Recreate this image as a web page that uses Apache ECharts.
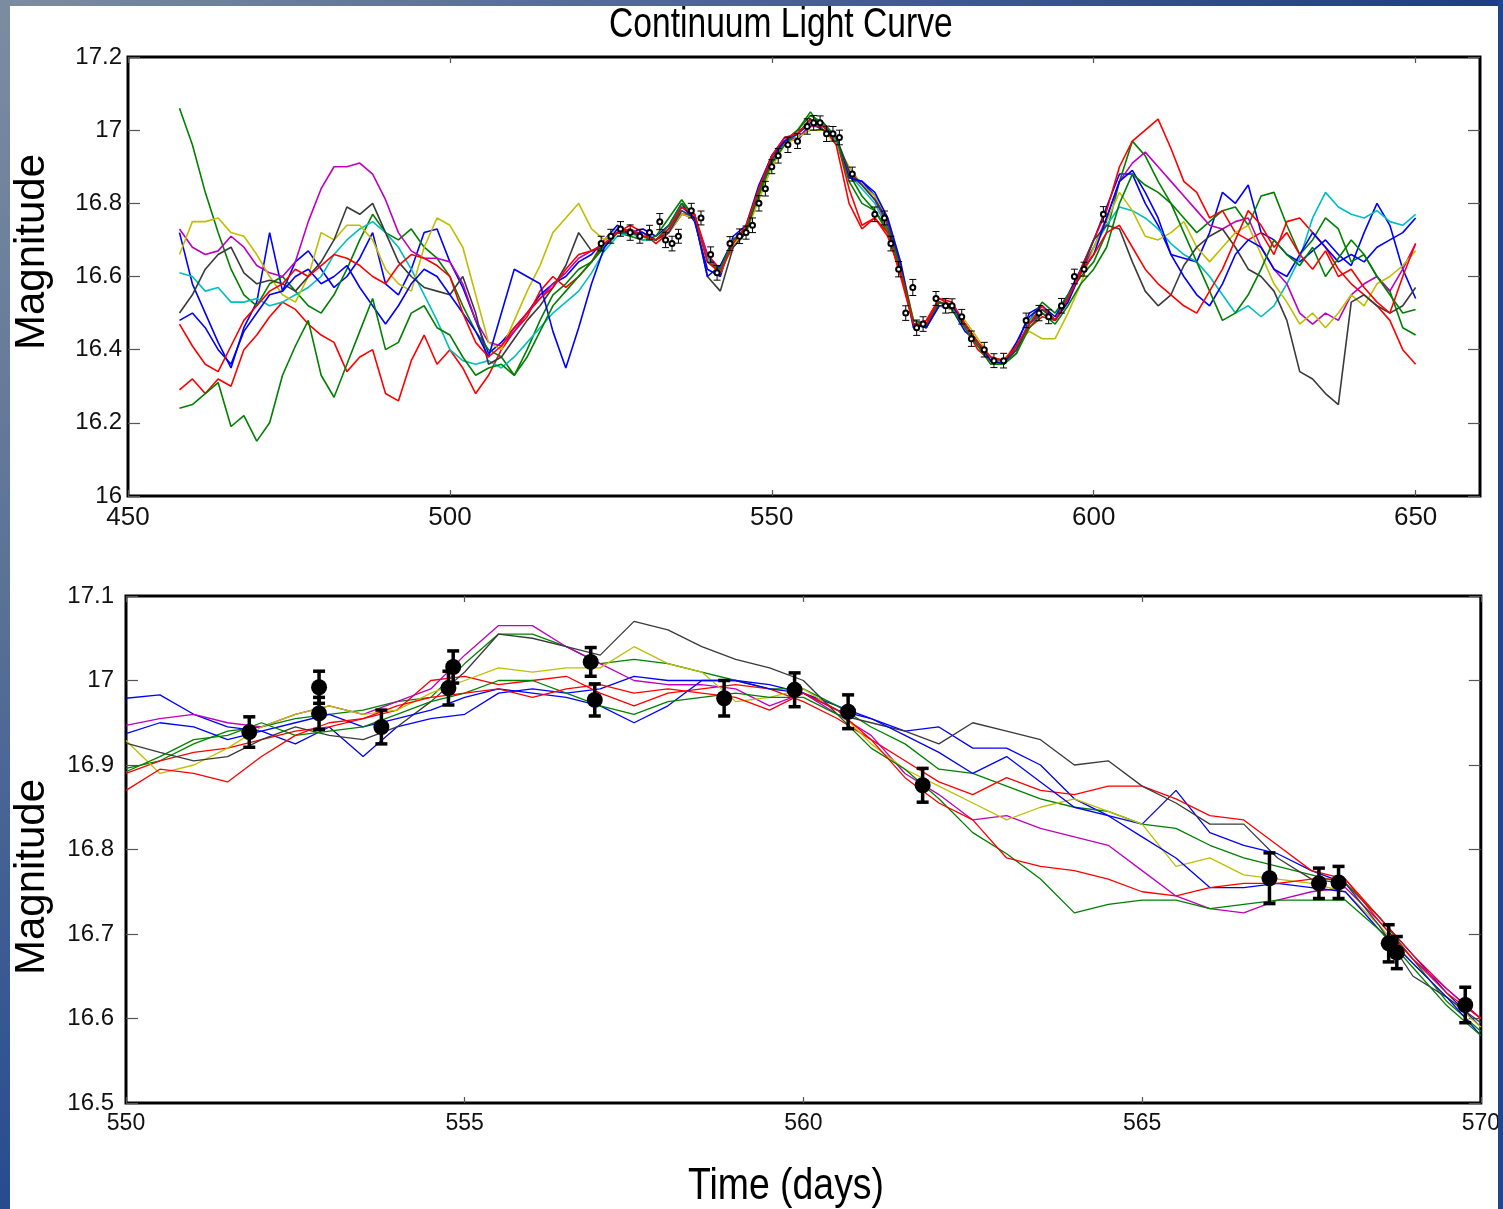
<!DOCTYPE html>
<html>
<head>
<meta charset="utf-8">
<script src="https://cdn.jsdelivr.net/npm/echarts@6/dist/echarts.min.js"></script>
<style>
  html, body { margin: 0; padding: 0; background: #fff; }
  #chart { width: 1503px; height: 1209px; }
</style>
</head>
<body>
<div id="chart"></div>
<script>
// ---------- Upper panel: full light curve with model realisations ----------
const topDays = [
  458,460,462,464,466,468,470,472,474,476,
  478,480,482,484,486,488,490,492,494,496,
  498,500,502,504,506,508,510,512,514,516,
  518,520,522,524,526,528,530,532,534,536,
  538,540,542,544,546,548,550,552,554,556,
  558,560,562,564,566,568,570,572,574,576,
  578,580,582,584,586,588,590,592,594,596,
  598,600,602,604,606,608,610,612,614,616,
  618,620,622,624,626,628,630,632,634,636,
  638,640,642,644,646,648,650
];
const topBlue1 = [
  16.72,16.58,16.50,16.42,16.35,16.46,16.53,16.72,16.56,16.64,
  16.67,16.62,16.57,16.60,16.65,16.72,16.58,16.55,16.62,16.72,
  16.73,16.64,16.57,16.48,16.39,16.42,16.46,16.50,16.55,16.58,
  16.60,16.64,16.66,16.70,16.74,16.72,16.73,16.71,16.74,16.80,
  16.75,16.62,16.60,16.71,16.74,16.85,16.93,16.98,16.97,17.02,
  17.00,16.97,16.87,16.86,16.82,16.75,16.63,16.46,16.48,16.53,
  16.51,16.45,16.42,16.37,16.36,16.41,16.50,16.52,16.49,16.55,
  16.62,16.70,16.79,16.88,16.88,16.80,16.74,16.66,16.65,16.64,
  16.72,16.83,16.80,16.85,16.72,16.70,16.66,16.64,16.67,16.70,
  16.66,16.63,16.72,16.80,16.74,16.62,16.54
];
const topGreen1 = [
  17.06,16.96,16.83,16.72,16.62,16.55,16.52,16.58,16.60,16.56,
  16.52,16.50,16.55,16.62,16.70,16.77,16.72,16.70,16.73,16.68,
  16.65,16.60,16.52,16.45,16.40,16.38,16.33,16.40,16.48,16.55,
  16.58,16.62,16.64,16.68,16.72,16.71,16.70,16.71,16.76,16.81,
  16.76,16.65,16.62,16.68,16.72,16.82,16.91,16.97,17.00,17.05,
  17.00,16.98,16.88,16.82,16.78,16.72,16.61,16.47,16.47,16.52,
  16.52,16.47,16.42,16.38,16.36,16.39,16.48,16.53,16.50,16.55,
  16.60,16.64,16.72,16.86,16.97,16.93,16.86,16.80,16.76,16.72,
  16.75,16.78,16.79,16.74,16.82,16.83,16.74,16.66,16.70,16.76,
  16.73,16.64,16.66,16.60,16.56,16.46,16.44
];
const topRed1 = [
  16.29,16.32,16.28,16.32,16.30,16.40,16.44,16.49,16.53,16.51,
  16.47,16.44,16.42,16.34,16.38,16.40,16.28,16.26,16.37,16.44,
  16.36,16.40,16.35,16.28,16.33,16.40,16.45,16.49,16.56,16.60,
  16.57,16.60,16.64,16.70,16.72,16.74,16.72,16.69,16.72,16.77,
  16.77,16.66,16.62,16.70,16.72,16.84,16.93,16.97,17.00,17.01,
  17.02,16.98,16.84,16.74,16.76,16.72,16.60,16.47,16.48,16.54,
  16.52,16.46,16.40,16.37,16.37,16.41,16.46,16.49,16.48,16.53,
  16.62,16.70,16.78,16.90,16.97,17.00,17.03,16.95,16.86,16.83,
  16.76,16.78,16.72,16.70,16.72,16.66,16.75,16.76,16.72,16.68,
  16.62,16.58,16.55,16.52,16.48,16.40,16.36
];
const topCyan = [
  16.61,16.60,16.56,16.57,16.53,16.53,16.54,16.52,16.53,16.55,
  16.57,16.60,16.66,16.70,16.73,16.75,16.72,16.68,16.62,16.55,
  16.48,16.40,16.37,16.36,16.37,16.35,16.38,16.42,16.46,16.50,
  16.53,16.56,16.61,16.67,16.71,16.72,16.70,16.70,16.73,16.78,
  16.76,16.65,16.61,16.69,16.73,16.83,16.92,16.96,16.99,17.02,
  17.00,16.97,16.88,16.84,16.80,16.73,16.62,16.48,16.47,16.52,
  16.51,16.47,16.41,16.38,16.36,16.40,16.48,16.51,16.48,16.54,
  16.61,16.68,16.74,16.79,16.78,16.76,16.73,16.69,16.66,16.64,
  16.60,16.55,16.50,16.52,16.49,16.52,16.58,16.65,16.76,16.83,
  16.79,16.77,16.76,16.78,16.75,16.74,16.77
];
const topMagenta = [
  16.73,16.68,16.66,16.67,16.71,16.68,16.63,16.61,16.60,16.64,
  16.75,16.84,16.90,16.90,16.91,16.88,16.81,16.72,16.67,16.65,
  16.65,16.64,16.58,16.48,16.42,16.41,16.45,16.50,16.54,16.58,
  16.61,16.65,16.67,16.69,16.72,16.72,16.71,16.70,16.72,16.77,
  16.76,16.66,16.61,16.70,16.73,16.83,16.92,16.97,16.98,17.01,
  17.01,16.98,16.88,16.85,16.81,16.74,16.63,16.48,16.46,16.53,
  16.52,16.46,16.41,16.38,16.37,16.40,16.47,16.50,16.48,16.54,
  16.61,16.68,16.76,16.86,16.91,16.94,16.90,16.86,16.82,16.78,
  16.74,16.73,16.75,16.76,16.68,16.62,16.58,16.50,16.47,16.50,
  16.48,16.55,16.58,16.60,16.56,16.62,16.69
];
const topYellow = [
  16.66,16.75,16.75,16.76,16.72,16.71,16.66,16.60,16.55,16.53,
  16.60,16.72,16.70,16.74,16.74,16.70,16.62,16.58,16.56,16.68,
  16.76,16.74,16.68,16.55,16.42,16.40,16.48,16.56,16.63,16.72,
  16.76,16.80,16.73,16.70,16.73,16.72,16.71,16.70,16.72,16.77,
  16.76,16.64,16.61,16.69,16.72,16.81,16.90,16.96,16.98,17.00,
  17.00,16.96,16.90,16.85,16.82,16.76,16.64,16.48,16.46,16.52,
  16.51,16.48,16.43,16.38,16.37,16.42,16.45,16.43,16.43,16.50,
  16.58,16.68,16.75,16.83,16.78,16.71,16.70,16.72,16.75,16.68,
  16.64,16.68,16.72,16.74,16.66,16.58,16.53,16.47,16.50,16.46,
  16.50,16.55,16.52,16.58,16.60,16.63,16.67
];
const topBlack = [
  16.50,16.55,16.62,16.66,16.68,16.61,16.58,16.59,16.58,16.56,
  16.60,16.64,16.70,16.79,16.77,16.80,16.72,16.64,16.60,16.57,
  16.56,16.55,16.60,16.50,16.36,16.38,16.43,16.48,16.52,16.57,
  16.63,16.72,16.67,16.68,16.72,16.72,16.71,16.70,16.72,16.78,
  16.76,16.60,16.56,16.68,16.72,16.83,16.92,16.97,16.99,17.02,
  17.00,16.98,16.89,16.85,16.81,16.75,16.63,16.47,16.46,16.53,
  16.52,16.47,16.42,16.37,16.36,16.40,16.47,16.51,16.48,16.54,
  16.61,16.70,16.74,16.73,16.64,16.56,16.52,16.55,16.63,16.68,
  16.71,16.73,16.68,16.62,16.60,16.56,16.48,16.34,16.32,16.28,
  16.25,16.53,16.55,16.52,16.50,16.52,16.57
];
const topBlue2 = [
  16.48,16.50,16.46,16.40,16.36,16.45,16.50,16.55,16.56,16.60,
  16.62,16.58,16.60,16.63,16.57,16.52,16.47,16.52,16.58,16.62,
  16.60,16.55,16.50,16.45,16.38,16.50,16.62,16.60,16.58,16.45,
  16.35,16.46,16.58,16.68,16.73,16.72,16.72,16.70,16.73,16.79,
  16.76,16.60,16.63,16.70,16.73,16.84,16.93,16.97,16.99,17.03,
  17.01,16.98,16.87,16.86,16.83,16.76,16.64,16.47,16.46,16.52,
  16.52,16.47,16.42,16.37,16.36,16.42,16.49,16.52,16.48,16.53,
  16.61,16.66,16.76,16.86,16.89,16.83,16.76,16.66,16.60,16.55,
  16.52,16.58,16.66,16.70,16.68,16.62,16.60,16.66,16.72,16.68,
  16.64,16.66,16.64,16.68,16.70,16.72,16.76
];
const topGreen2 = [
  16.24,16.25,16.28,16.31,16.19,16.22,16.15,16.20,16.33,16.41,
  16.48,16.33,16.27,16.36,16.45,16.54,16.40,16.42,16.50,16.52,
  16.46,16.44,16.38,16.33,16.35,16.36,16.33,16.38,16.45,16.52,
  16.56,16.60,16.64,16.69,16.72,16.73,16.71,16.70,16.74,16.80,
  16.77,16.64,16.62,16.70,16.73,16.83,16.91,16.96,17.00,17.04,
  17.02,16.98,16.86,16.80,16.78,16.73,16.62,16.48,16.47,16.53,
  16.51,16.46,16.41,16.36,16.36,16.39,16.46,16.50,16.47,16.52,
  16.58,16.62,16.68,16.80,16.88,16.85,16.83,16.80,16.72,16.64,
  16.56,16.48,16.50,16.55,16.62,16.70,16.66,16.63,16.68,16.60,
  16.65,16.70,16.66,16.60,16.55,16.50,16.51
];
const topRed2 = [
  16.47,16.41,16.36,16.34,16.41,16.48,16.52,16.56,16.58,16.62,
  16.60,16.63,16.66,16.65,16.63,16.60,16.58,16.63,16.66,16.65,
  16.63,16.60,16.50,16.42,16.38,16.41,16.46,16.50,16.54,16.57,
  16.62,16.66,16.67,16.69,16.72,16.73,16.71,16.70,16.73,16.79,
  16.77,16.64,16.61,16.69,16.74,16.84,16.93,16.98,16.99,17.03,
  17.01,16.96,16.80,16.73,16.76,16.71,16.61,16.47,16.47,16.54,
  16.53,16.47,16.42,16.38,16.37,16.41,16.47,16.52,16.48,16.54,
  16.61,16.66,16.72,16.74,16.68,16.62,16.58,16.55,16.52,16.50,
  16.56,16.62,16.70,16.78,16.74,16.68,16.72,16.66,16.62,16.67,
  16.60,16.62,16.57,16.53,16.50,16.60,16.69
];
// observed photometry (days, magnitude, 1-sigma error)
const topObsDay = [
  523.5,525,526.5,528,529.5,531,532.6,533.5,534.5,535.5,
  537.5,539,540.5,541.5,543.5,545,546,547,548,549,
  550,551,552.5,554,555.5,556.5,557.5,558.5,559.5,560.5,
  562.5,566,567.5,568.5,569.7,570.8,571.9,572.5,573.5,575.5,
  577,578,579.5,581,583,584.5,586,589.5,591.5,593,
  595,597,598.5,601.5
];
const topObsMag = [
  16.69,16.71,16.73,16.72,16.71,16.72,16.75,16.70,16.69,16.71,
  16.78,16.76,16.66,16.61,16.69,16.71,16.72,16.74,16.80,16.84,
  16.90,16.93,16.96,16.97,17.01,17.02,17.02,16.99,16.99,16.98,
  16.88,16.77,16.76,16.69,16.62,16.50,16.57,16.46,16.47,16.54,
  16.52,16.52,16.49,16.43,16.40,16.37,16.37,16.48,16.50,16.49,
  16.52,16.60,16.62,16.77
];
const topObsErr = [
  0.020,0.019,0.020,0.021,0.019,0.020,0.022,0.021,0.020,0.019,
  0.020,0.019,0.021,0.020,0.019,0.020,0.018,0.020,0.021,0.020,
  0.019,0.020,0.021,0.020,0.021,0.020,0.019,0.021,0.020,0.020,
  0.019,0.020,0.019,0.020,0.021,0.020,0.022,0.021,0.020,0.019,
  0.020,0.019,0.020,0.021,0.020,0.019,0.020,0.020,0.021,0.019,
  0.020,0.020,0.019,0.021
];

// ---------- Lower panel: zoom on days 550-570 ----------
const botDays = [
  550,550.5,551,551.5,552,552.5,553,553.5,554,554.5,
  555,555.5,556,556.5,557,557.5,558,558.5,559,559.5,
  560,560.5,561,561.5,562,562.5,563,563.5,564,564.5,
  565,565.5,566,566.5,567,567.5,568,568.5,569,569.5,
  570
];
const botBlack = [
  16.926,16.915,16.905,16.910,16.930,16.945,16.935,16.930,16.945,16.975,
  17.010,17.055,17.050,17.040,17.030,17.070,17.060,17.040,17.025,17.015,
  17.000,16.960,16.950,16.940,16.925,16.950,16.940,16.930,16.900,16.905,
  16.875,16.855,16.830,16.830,16.790,16.765,16.760,16.710,16.650,16.625,
  16.595
];
const botBlue1 = [
  16.979,16.983,16.960,16.945,16.940,16.925,16.945,16.910,16.945,16.955,
  16.960,16.985,16.990,16.985,16.990,17.005,17.000,17.000,17.000,16.995,
  16.985,16.970,16.955,16.940,16.945,16.920,16.920,16.900,16.860,16.840,
  16.830,16.870,16.820,16.805,16.795,16.775,16.760,16.720,16.675,16.630,
  16.590
];
const botBlue2 = [
  16.937,16.950,16.945,16.930,16.940,16.950,16.960,16.945,16.955,16.965,
  16.980,16.990,16.985,16.980,16.970,16.950,16.970,17.000,17.000,16.990,
  16.985,16.965,16.955,16.935,16.915,16.890,16.910,16.880,16.850,16.840,
  16.815,16.790,16.755,16.755,16.760,16.755,16.750,16.705,16.665,16.625,
  16.580
];
const botGreen1 = [
  16.896,16.905,16.925,16.940,16.945,16.955,16.960,16.965,16.975,16.980,
  17.020,17.055,17.055,17.040,17.020,17.025,17.020,17.010,17.000,16.990,
  16.990,16.970,16.945,16.925,16.895,16.890,16.875,16.860,16.850,16.845,
  16.830,16.825,16.805,16.790,16.780,16.770,16.760,16.720,16.670,16.620,
  16.585
];
const botGreen2 = [
  16.892,16.910,16.930,16.935,16.950,16.935,16.940,16.945,16.960,16.975,
  16.985,17.000,17.000,16.985,16.970,16.960,16.975,16.980,16.985,16.980,
  16.980,16.960,16.920,16.895,16.860,16.820,16.795,16.765,16.725,16.735,
  16.740,16.740,16.730,16.735,16.740,16.740,16.740,16.705,16.660,16.615,
  16.580
];
const botRed1 = [
  16.890,16.905,16.915,16.920,16.930,16.940,16.945,16.955,16.965,17.000,
  17.005,16.995,17.000,17.005,16.985,16.970,16.985,16.990,16.995,16.990,
  16.975,16.955,16.930,16.905,16.880,16.865,16.885,16.870,16.865,16.875,
  16.875,16.860,16.840,16.835,16.805,16.775,16.765,16.720,16.675,16.635,
  16.600
];
const botRed2 = [
  16.870,16.895,16.890,16.880,16.910,16.935,16.950,16.955,16.970,16.980,
  16.985,16.990,16.980,16.990,16.995,16.985,16.990,16.985,16.980,16.965,
  16.985,16.965,16.930,16.885,16.855,16.835,16.790,16.780,16.775,16.765,
  16.750,16.745,16.755,16.760,16.760,16.765,16.765,16.715,16.670,16.630,
  16.600
];
const botMagenta = [
  16.947,16.955,16.960,16.950,16.945,16.960,16.970,16.960,16.975,16.990,
  17.030,17.065,17.065,17.040,17.020,17.000,16.995,16.995,16.990,16.970,
  16.985,16.960,16.935,16.890,16.865,16.835,16.840,16.825,16.815,16.805,
  16.775,16.745,16.730,16.725,16.740,16.750,16.755,16.715,16.670,16.635,
  16.600
];
const botYellow = [
  16.929,16.890,16.900,16.920,16.945,16.960,16.970,16.960,16.965,16.985,
  17.000,17.015,17.010,17.015,17.015,17.040,17.020,17.010,16.975,16.980,
  16.990,16.965,16.925,16.895,16.875,16.855,16.835,16.850,16.860,16.845,
  16.830,16.780,16.790,16.770,16.765,16.760,16.750,16.710,16.665,16.625,
  16.590
];
const botObsDay = [551.82,552.85,552.85,553.77,554.76,554.83,556.86,556.92,558.83,559.87,560.66,561.76,566.88,567.61,567.90,568.64,568.76,569.77];
const botObsMag = [16.939,16.992,16.961,16.945,16.991,17.016,17.022,16.977,16.979,16.989,16.963,16.876,16.766,16.760,16.761,16.689,16.678,16.616];
const botObsErr = [0.018,0.019,0.019,0.020,0.020,0.019,0.017,0.019,0.021,0.020,0.020,0.020,0.030,0.018,0.019,0.022,0.019,0.021];

// tick positions
const topXTicks = [450, 500, 550, 600, 650];
const botXTicks = [550, 555, 560, 565, 570];

// ---------- styling ----------
const C = { b: '#0000ff', g: '#008000', r: '#ff0000', c: '#00bfbf', m: '#bf00bf', y: '#bfbf00', k: '#3a3a3a' };
const SANS = "'Liberation Sans', Arial, sans-serif";

function pairs(xs, ys) { return xs.map((x, i) => [x, ys[i]]); }
function triples(xs, ys, es) { return xs.map((x, i) => [x, ys[i], es[i]]); }

function lineSeries(axisIdx, xs, ys, color, width) {
  return {
    type: 'line', xAxisIndex: axisIdx, yAxisIndex: axisIdx,
    data: pairs(xs, ys), showSymbol: false, symbol: 'none',
    lineStyle: { color: color, width: width }, z: 2, silent: true
  };
}

function errorBars(capHalf, lw) {
  return function (params, api) {
    const x = api.value(0), y = api.value(1), e = api.value(2);
    const hi = api.coord([x, y + e]);
    const lo = api.coord([x, y - e]);
    const st = { stroke: '#000', lineWidth: lw };
    return {
      type: 'group',
      children: [
        { type: 'line', shape: { x1: hi[0], y1: hi[1], x2: lo[0], y2: lo[1] }, style: st },
        { type: 'line', shape: { x1: hi[0] - capHalf, y1: hi[1], x2: hi[0] + capHalf, y2: hi[1] }, style: st },
        { type: 'line', shape: { x1: lo[0] - capHalf, y1: lo[1], x2: lo[0] + capHalf, y2: lo[1] }, style: st }
      ]
    };
  };
}

const tickStyle = { color: '#555', width: 1.2 };

const option = {
  backgroundColor: '#ffffff',
  animation: false,
  grid: [
    { left: 128, top: 57, width: 1352, height: 439, show: true, borderColor: '#000', borderWidth: 3, backgroundColor: 'transparent' },
    { left: 126, top: 596, width: 1361, height: 507, show: true, borderColor: '#000', borderWidth: 3, backgroundColor: 'transparent' }
  ],
  xAxis: [
    { gridIndex: 0, type: 'value', min: 450, max: 660, interval: 50,
      axisLine: { show: false }, splitLine: { show: false },
      axisTick: { show: true, inside: true, length: 6, lineStyle: tickStyle, customValues: topXTicks },
      axisLabel: { customValues: topXTicks, fontFamily: SANS, fontSize: 26, color: '#111', margin: 9 } },
    { gridIndex: 1, type: 'value', min: 550, max: 570, interval: 5,
      axisLine: { show: false }, splitLine: { show: false },
      axisTick: { show: true, inside: true, length: 6, lineStyle: tickStyle, customValues: botXTicks },
      axisLabel: { customValues: botXTicks, fontFamily: SANS, fontSize: 23, color: '#111', margin: 9 } },
    { gridIndex: 0, type: 'value', position: 'top', min: 450, max: 660, interval: 50,
      axisLine: { show: false }, splitLine: { show: false }, axisLabel: { show: false },
      axisTick: { show: true, inside: true, length: 6, lineStyle: tickStyle, customValues: topXTicks } },
    { gridIndex: 1, type: 'value', position: 'top', min: 550, max: 570, interval: 5,
      axisLine: { show: false }, splitLine: { show: false }, axisLabel: { show: false },
      axisTick: { show: true, inside: true, length: 6, lineStyle: tickStyle, customValues: botXTicks } }
  ],
  yAxis: [
    { gridIndex: 0, type: 'value', min: 16, max: 17.2, interval: 0.2,
      axisLine: { show: false }, splitLine: { show: false },
      axisTick: { show: true, inside: true, length: 12, lineStyle: tickStyle },
      axisLabel: { fontFamily: SANS, fontSize: 24, color: '#111', margin: 6 } },
    { gridIndex: 1, type: 'value', min: 16.5, max: 17.1, interval: 0.1,
      axisLine: { show: false }, splitLine: { show: false },
      axisTick: { show: true, inside: true, length: 12, lineStyle: tickStyle },
      axisLabel: { fontFamily: SANS, fontSize: 24, color: '#111', margin: 12 } },
    { gridIndex: 0, type: 'value', position: 'right', min: 16, max: 17.2, interval: 0.2,
      axisLine: { show: false }, splitLine: { show: false }, axisLabel: { show: false },
      axisTick: { show: true, inside: true, length: 12, lineStyle: tickStyle } },
    { gridIndex: 1, type: 'value', position: 'right', min: 16.5, max: 17.1, interval: 0.1,
      axisLine: { show: false }, splitLine: { show: false }, axisLabel: { show: false },
      axisTick: { show: true, inside: true, length: 12, lineStyle: tickStyle } }
  ],
  graphic: [
    // headline and axis captions (condensed by horizontal scaling)
    { type: 'text', x: 609, y: 25, scaleX: 0.8, z: 10,
      style: { text: 'Continuum Light Curve', font: "42px 'Liberation Sans', Arial, sans-serif", fill: '#000', textAlign: 'left', textVerticalAlign: 'middle' } },
    { type: 'text', x: 786, y: 1187, scaleX: 0.85, z: 10,
      style: { text: 'Time (days)', font: "44px 'Liberation Sans', Arial, sans-serif", fill: '#000', textAlign: 'center', textVerticalAlign: 'middle' } },
    { type: 'text', x: 32, y: 252, rotation: Math.PI / 2, z: 10,
      style: { text: 'Magnitude', font: "42px 'Liberation Sans', Arial, sans-serif", fill: '#000', textAlign: 'center', textVerticalAlign: 'middle' } },
    { type: 'text', x: 32, y: 877, rotation: Math.PI / 2, z: 10,
      style: { text: 'Magnitude', font: "42px 'Liberation Sans', Arial, sans-serif", fill: '#000', textAlign: 'center', textVerticalAlign: 'middle' } },
    // slide frame
    { type: 'rect', z: 100, shape: { x: 0, y: 0, width: 10, height: 1209 },
      style: { fill: new echarts.graphic.LinearGradient(0, 0, 0, 1, [{ offset: 0, color: '#7c8ca1' }, { offset: 0.5, color: '#5a7196' }, { offset: 1, color: '#274b8f' }]) } },
    { type: 'rect', z: 100, shape: { x: 0, y: 0, width: 1503, height: 6 },
      style: { fill: new echarts.graphic.LinearGradient(0, 0, 1, 0, [{ offset: 0, color: '#7c8ca1' }, { offset: 0.5, color: '#4a6392' }, { offset: 1, color: '#1e3d84' }]) } },
    { type: 'rect', z: 100, shape: { x: 1498, y: 0, width: 5, height: 1209 },
      style: { fill: '#21448e' } }
  ],
  series: [
    lineSeries(0, topDays, topBlue1, C.b, 1.6),
    lineSeries(0, topDays, topGreen1, C.g, 1.6),
    lineSeries(0, topDays, topRed1, C.r, 1.6),
    lineSeries(0, topDays, topCyan, C.c, 1.6),
    lineSeries(0, topDays, topMagenta, C.m, 1.6),
    lineSeries(0, topDays, topYellow, C.y, 1.6),
    lineSeries(0, topDays, topBlack, C.k, 1.6),
    lineSeries(0, topDays, topBlue2, C.b, 1.6),
    lineSeries(0, topDays, topGreen2, C.g, 1.6),
    lineSeries(0, topDays, topRed2, C.r, 1.6),
    { type: 'custom', xAxisIndex: 0, yAxisIndex: 0, z: 5, silent: true,
      data: triples(topObsDay, topObsMag, topObsErr), encode: { x: 0, y: 1 },
      renderItem: errorBars(3.5, 1) },
    { type: 'scatter', xAxisIndex: 0, yAxisIndex: 0, z: 6, silent: true,
      data: pairs(topObsDay, topObsMag), symbol: 'emptyCircle', symbolSize: 5,
      itemStyle: { color: '#000', borderColor: '#000', borderWidth: 1, opacity: 1 } },

    lineSeries(1, botDays, botBlue1, C.b, 1.3),
    lineSeries(1, botDays, botGreen1, C.g, 1.3),
    lineSeries(1, botDays, botRed1, C.r, 1.3),
    lineSeries(1, botDays, botMagenta, C.m, 1.3),
    lineSeries(1, botDays, botYellow, C.y, 1.3),
    lineSeries(1, botDays, botBlack, C.k, 1.3),
    lineSeries(1, botDays, botBlue2, C.b, 1.3),
    lineSeries(1, botDays, botGreen2, C.g, 1.3),
    lineSeries(1, botDays, botRed2, C.r, 1.3),
    { type: 'custom', xAxisIndex: 1, yAxisIndex: 1, z: 5, silent: true,
      data: triples(botObsDay, botObsMag, botObsErr), encode: { x: 0, y: 1 },
      renderItem: errorBars(6, 3.5) },
    { type: 'scatter', xAxisIndex: 1, yAxisIndex: 1, z: 6, silent: true,
      data: pairs(botObsDay, botObsMag), symbol: 'circle', symbolSize: 16,
      itemStyle: { color: '#000', opacity: 1 } }
  ]
};

const chart = echarts.init(document.getElementById('chart'), null, { renderer: 'canvas' });
chart.setOption(option);
</script>
</body>
</html>
